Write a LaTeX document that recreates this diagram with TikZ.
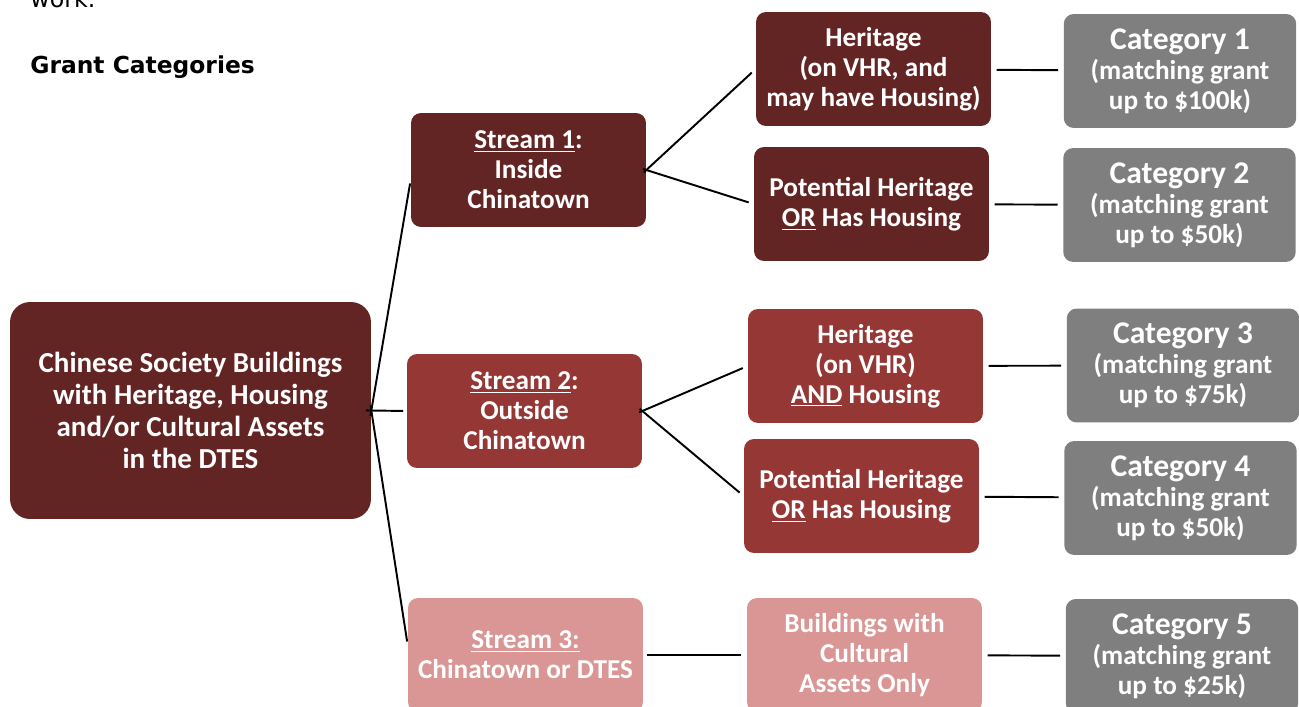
\documentclass[tikz,border=0pt]{standalone}
\usepackage{fontspec}
\setmainfont{Carlito}
\newfontfamily\headfont{DejaVu Sans}
\usetikzlibrary{positioning}
\definecolor{DeepRed}{HTML}{632523}
\definecolor{MidRed}{HTML}{953735}
\definecolor{SoftRed}{HTML}{D99694}
\definecolor{MidGray}{HTML}{7F7F7F}
\newcommand{\catline}[1]{{\fontsize{18}{17}\selectfont #1}}

\begin{document}
\begin{tikzpicture}[x=0.02cm, y=-0.02cm,
  every node/.style={align=center, text=white, font=\bfseries\fontsize{15.5}{17}\selectfont},
  box/.style={rounded corners=0.2cm, minimum width=4.7cm, minimum height=2.28cm, inner sep=0pt},
  catbox/.style={box, fill=MidGray, minimum width=4.65cm},
  headtext/.style={anchor=base west, inner sep=0pt, text=black},
  link/.style={line width=1.1pt, black}]
  \clip (0,0) rectangle (1299,707);

  % Heading text
  \node[headtext, font=\headfont\fontsize{13.5}{16}\selectfont] (work) at (30,7) {work.};
  \node[headtext, font=\headfont\bfseries\fontsize{13.3}{16}\selectfont] (title) at (30,73) {Grant Categories};

  % Root
  \node[box, fill=DeepRed, rounded corners=0.4cm, minimum width=7.22cm, minimum height=4.34cm,
        font=\bfseries\fontsize{16.5}{18.2}\selectfont] (root) at (190.5,410.5)
  {Chinese Society Buildings\\with Heritage, Housing\\and/or Cultural Assets\\in the DTES};

  % Streams
  \node[box, fill=DeepRed] (s1) at (528.5,170) {\underline{Stream 1}:\\Inside\\Chinatown};
  \node[box, fill=MidRed]  (s2) at (524.5,411) {\underline{Stream 2}:\\Outside\\Chinatown};
  \node[box, fill=SoftRed] (s3) at (525.5,655) {\underline{Stream 3:}\\Chinatown or DTES};

  % Eligibility
  \node[box, fill=DeepRed] (h1) at (873.5,69) {Heritage\\(on VHR, and\\may have Housing)};
  \node[box, fill=DeepRed] (p1) at (871.5,204) {Potential Heritage\\\underline{OR} Has Housing};
  \node[box, fill=MidRed]  (h2) at (865.5,366) {Heritage\\(on VHR)\\\underline{AND} Housing};
  \node[box, fill=MidRed]  (p2) at (861.5,496) {Potential Heritage\\\underline{OR} Has Housing};
  \node[box, fill=SoftRed] (b3) at (864.5,655) {Buildings with\\Cultural\\Assets Only};

  % Categories
  \node[catbox] (c1) at (1180,71) {\catline{Category 1}\\(matching grant\\up to \$100k)};
  \node[catbox] (c2) at (1179.5,205) {\catline{Category 2}\\(matching grant\\up to \$50k)};
  \node[catbox] (c3) at (1183,365.5) {\catline{Category 3}\\(matching grant\\up to \$75k)};
  \node[catbox] (c4) at (1180.5,498) {\catline{Category 4}\\(matching grant\\up to \$50k)};
  \node[catbox] (c5) at (1182,656) {\catline{Category 5}\\(matching grant\\up to \$25k)};

  % Connectors
  \draw[link, shorten <=-3pt, shorten >=2pt] (root.east) -- ([yshift=-0.2cm]s1.west);
  \draw[link, shorten <=-3pt, shorten >=2pt] (root.east) -- (s2.west);
  \draw[link, shorten <=-3pt, shorten >=2pt] (root.east) -- ([yshift=0.2cm]s3.west);
  \draw[link, shorten <=-2pt, shorten >=3pt] (s1.east) -- (h1.west);
  \draw[link, shorten <=-2pt, shorten >=3pt] (s1.east) -- (p1.west);
  \draw[link, shorten <=-2pt, shorten >=3pt] (s2.east) -- (h2.west);
  \draw[link, shorten <=-2pt, shorten >=3pt] (s2.east) -- (p2.west);
  \draw[link, shorten <=2pt, shorten >=3pt] (s3) -- (b3);
  \draw[link, shorten <=3pt, shorten >=3pt] (h1) -- (c1);
  \draw[link, shorten <=3pt, shorten >=3pt] (p1) -- (c2);
  \draw[link, shorten <=3pt, shorten >=3pt] (h2) -- (c3);
  \draw[link, shorten <=3pt, shorten >=3pt] (p2) -- (c4);
  \draw[link, shorten <=3pt, shorten >=3pt] (b3) -- (c5);
\end{tikzpicture}
\end{document}
